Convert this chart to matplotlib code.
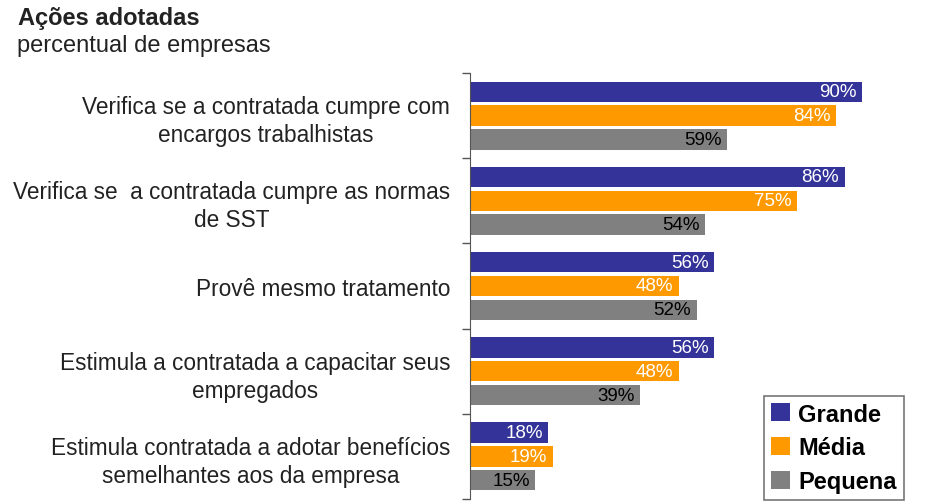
import matplotlib
matplotlib.use("Agg")
import matplotlib.pyplot as plt
import numpy as np
from matplotlib.patches import Patch

categories = [
    "Verifica se a contratada cumpre com\nencargos trabalhistas",
    "Verifica se  a contratada cumpre as normas\nde SST",
    "Provê mesmo tratamento",
    "Estimula a contratada a capacitar seus\nempregados",
    "Estimula contratada a adotar benefícios\nsemelhantes aos da empresa",
]
series_names = ["Grande", "Média", "Pequena"]
grande = [90, 86, 56, 56, 18]
media = [84, 75, 48, 48, 19]
pequena = [59, 54, 52, 39, 15]
colors = ["#333399", "#FF9900", "#808080"]
label_colors = ["white", "white", "black"]

plt.rcParams['font.family'] = ['Liberation Sans', 'DejaVu Sans']

fig = plt.figure(figsize=(9.38, 5.02), dpi=100)
W, H = 938, 502
ax = fig.add_axes([470 / W, (H - 500) / H, (W - 470) / W, (500 - 74) / H])

n = len(categories)
y = np.arange(n)
offsets = [-0.28, 0.0, 0.28]
height = 0.24
for vals, off, c, lc in zip([grande, media, pequena], offsets, colors, label_colors):
    bars = ax.barh(y + off, vals, height=height, color=c)
    for b, v in zip(bars, vals):
        ax.text(b.get_width() - 1.3, b.get_y() + b.get_height() / 2, f"{v}%",
                ha="right", va="center", color=lc, fontsize=13.5)

ax.set_xlim(0, 107.4)
ax.set_ylim(n - 0.5, -0.5)
ax.set_yticks(y)
ax.set_yticklabels(categories, fontsize=16.3, color="#222222", ha="right",
                   multialignment="center", linespacing=1.28)
ax.tick_params(axis="y", which="major", length=0, pad=14.4)
ax.set_yticks(np.arange(-0.5, n, 1.0), minor=True)
ax.tick_params(axis="y", which="minor", length=6, width=1, color="#555555", direction="out")
ax.set_xticks([])
for s in ["top", "right", "bottom"]:
    ax.spines[s].set_visible(False)
ax.spines["left"].set_color("#555555")

handles = [Patch(facecolor=c, edgecolor="none") for c in colors]
leg = fig.legend(handles, series_names, loc="lower right",
                 bbox_to_anchor=(904 / W, (H - 501) / H), borderaxespad=0,
                 prop={"weight": "bold", "size": 17}, frameon=True, fancybox=False,
                 handlelength=0.8, handleheight=0.8, handletextpad=0.35,
                 labelspacing=0.45, borderpad=0.3)
leg.get_frame().set_edgecolor("#555555")
leg.get_frame().set_linewidth(1.2)

fig.text(18 / W, 1 - 18 / H, "Ações adotadas", fontsize=17, fontweight="bold",
         color="#222222", va="center", ha="left")
fig.text(17 / W, 1 - 46 / H, "percentual de empresas", fontsize=17,
         color="#222222", va="center", ha="left")

fig.savefig("out.png", dpi=100)
